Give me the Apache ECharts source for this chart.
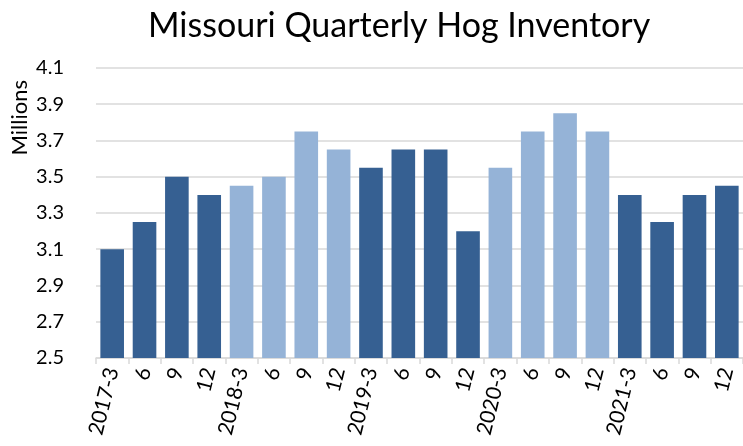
<!DOCTYPE html>
<html>
<head>
  <meta charset="utf-8">
  <script src="https://cdn.jsdelivr.net/npm/echarts@6/dist/echarts.min.js"></script>
  <style>
    html, body { margin: 0; padding: 0; background: #fff; }
    #chart { width: 743px; height: 446px; }
  </style>
</head>
<body>
  <div id="chart"></div>
  <script>
    // quarters, Mar/Jun/Sep/Dec
    var quarters = ['2017-3', '6', '9', '12', '2018-3', '6', '9', '12',
      '2019-3', '6', '9', '12', '2020-3', '6', '9', '12',
      '2021-3', '6', '9', '12'];
    // inventory, millions of head
    var inventory = [3.1, 3.25, 3.5, 3.4, 3.45, 3.5, 3.75, 3.65,
      3.55, 3.65, 3.65, 3.2, 3.55, 3.75, 3.85, 3.75,
      3.4, 3.25, 3.4, 3.45];
    // year shading: 0 dark, 1 light
    var yearShade = [0, 0, 0, 0, 1, 1, 1, 1, 0, 0, 0, 0, 1, 1, 1, 1, 0, 0, 0, 0];
    var yMin = 2.5, yMax = 4.1;

    var DARK = '#366092', LIGHT = '#95b3d7';
    var FONT = 'Lato';

    var chart = echarts.init(document.getElementById('chart'), null, { renderer: 'canvas' });

    chart.setOption({
      animation: false,
      title: {
        text: 'Missouri Quarterly Hog Inventory',
        left: 143,
        top: 4,
        textStyle: { fontFamily: FONT, fontSize: 34, fontWeight: 'normal', color: '#000' }
      },
      grid: { left: 96, top: 68, width: 654, bottom: 88 },
      graphic: [{
        type: 'text',
        left: 9,
        top: 80,
        style: { text: 'Millions', fontFamily: FONT, fontSize: 22, fill: '#000' },
        rotation: Math.PI / 2
      }],
      xAxis: {
        type: 'category',
        data: quarters,
        axisLine: { lineStyle: { color: '#d9d9d9', width: 1.5 } },
        axisTick: { show: true, length: 6, lineStyle: { color: '#d9d9d9', width: 1.5 } },
        axisLabel: {
          interval: 0,
          rotate: 76,
          margin: 10,
          fontFamily: FONT,
          fontSize: 21,
          color: '#000'
        }
      },
      yAxis: {
        type: 'value',
        min: yMin,
        max: yMax,
        interval: 0.1,
        axisLine: { show: false },
        axisTick: { show: false },
        axisLabel: {
          margin: 32,
          fontFamily: FONT,
          fontSize: 20,
          color: '#000',
          formatter: function (v) {
            var k = Math.round(v * 10);
            return k % 2 === 1 ? (k / 10).toFixed(1) : '';
          }
        },
        splitLine: { lineStyle: { color: ['#d9d9d9', 'rgba(0,0,0,0)'], width: 1.5 } }
      },
      series: [{
        type: 'bar',
        barCategoryGap: '27%',
        data: inventory.map(function (v, i) {
          return { value: v, itemStyle: { color: yearShade[i] ? LIGHT : DARK } };
        })
      }]
    });
  </script>
</body>
</html>
